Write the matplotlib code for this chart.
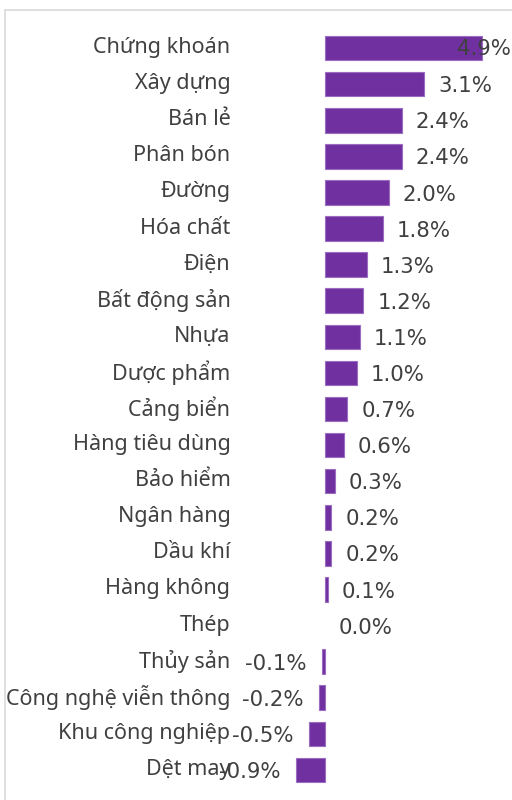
import matplotlib
matplotlib.use("Agg")
import matplotlib.pyplot as plt
from matplotlib.patches import Rectangle
from matplotlib.transforms import ScaledTranslation

# Dữ liệu: ngành và mức thay đổi (%)
categories = [
    "Chứng khoán", "Xây dựng", "Bán lẻ", "Phân bón", "Đường", "Hóa chất",
    "Điện", "Bất động sản", "Nhựa", "Dược phẩm", "Cảng biển",
    "Hàng tiêu dùng", "Bảo hiểm", "Ngân hàng", "Dầu khí", "Hàng không",
    "Thép", "Thủy sản", "Công nghệ viễn thông", "Khu công nghiệp", "Dệt may",
]
values = [4.9, 3.1, 2.4, 2.4, 2.0, 1.8, 1.3, 1.2, 1.1, 1.0, 0.7,
          0.6, 0.3, 0.2, 0.2, 0.1, 0.0, -0.1, -0.2, -0.5, -0.9]

BAR_COLOR = "#7030A0"
TEXT_COLOR = "#404040"
FONT = ["Noto Sans", "DejaVu Sans"]
VAL_FONT = ["DejaVu Sans"]
CAT_SIZE = 15.5
VAL_SIZE = 15.3

plt.rcParams["font.family"] = FONT

fig = plt.figure(figsize=(5.12, 8), dpi=100)

# khung viền nhạt quanh vùng biểu đồ
fig.patches.append(
    Rectangle(
        (5 / 512, -0.1), 1.2, 0.1 + (800 - 10) / 800,
        transform=fig.transFigure, fill=False,
        edgecolor="#d9d9d9", linewidth=1.2,
    )
)

ax = fig.add_axes([236 / 512, 12 / 800, 1 - 236 / 512, 758 / 800])

xmin, xmax = -2.78, 5.84
ypos = list(range(len(categories)))
ax.barh(
    ypos, values, height=0.68, color=BAR_COLOR,
    edgecolor="#9a6cc2",
    linewidth=[0.8 if v != 0 else 0 for v in values],
)
ax.set_xlim(xmin, xmax)
ax.set_ylim(len(categories) - 0.5, -0.5)

ax.set_yticks(ypos)
ax.set_yticklabels(categories, fontsize=CAT_SIZE, color=TEXT_COLOR)
ax.tick_params(axis="y", length=0, pad=4)
ax.set_xticks([])
for s in ax.spines.values():
    s.set_visible(False)

# nhãn ngành hơi cao hơn tâm thanh
up = ScaledTranslation(0, 3 / 100, fig.dpi_scale_trans)
for lbl in ax.get_yticklabels():
    lbl.set_transform(lbl.get_transform() + up)

val_kw = dict(textcoords="offset points", va="center", fontsize=VAL_SIZE,
              family=VAL_FONT, color=TEXT_COLOR, annotation_clip=False)

for y, v in zip(ypos, values):
    label = f"{v:.1f}%"
    if v >= 0:
        if v + 1.3 > xmax:
            # nhãn quá dài -> ép vào mép phải
            ax.annotate(label, (xmax, y), xytext=(-1, -1), ha="right", **val_kw)
        else:
            ax.annotate(label, (v, y), xytext=(10, -1.5), ha="left", **val_kw)
    else:
        ax.annotate(label, (v, y), xytext=(-11, -1.5), ha="right", **val_kw)

fig.savefig("out.png", dpi=100)
